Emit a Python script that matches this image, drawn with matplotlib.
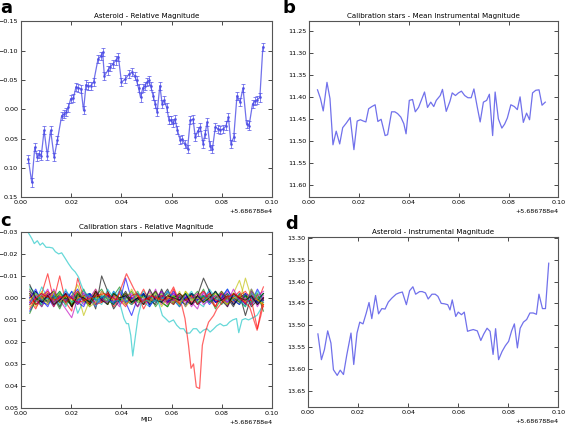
import matplotlib
matplotlib.use('Agg')
import matplotlib.pyplot as plt
from matplotlib.ticker import ScalarFormatter

MJD0 = 56867.88

# panel a: asteroid relative magnitude
t_a = [0.0029, 0.0043, 0.0055, 0.0065, 0.0073, 0.0081, 0.0092, 0.0105, 0.0118, 0.0132,
       0.0145, 0.0162, 0.0172, 0.0180, 0.0189, 0.0198, 0.0209, 0.0219, 0.0229, 0.0239,
       0.0249, 0.0259, 0.0268, 0.0278, 0.0289, 0.0307, 0.0317, 0.0325, 0.0332, 0.0346,
       0.0355, 0.0365, 0.0378, 0.0388, 0.0400, 0.0414, 0.0431, 0.0441, 0.0452, 0.0460,
       0.0468, 0.0476, 0.0485, 0.0494, 0.0502, 0.0508, 0.0516, 0.0526, 0.0534, 0.0542,
       0.0553, 0.0562, 0.0570, 0.0580, 0.0589, 0.0598, 0.0605, 0.0613, 0.0623, 0.0634,
       0.0643, 0.0652, 0.0663, 0.0674, 0.0685, 0.0694, 0.0703, 0.0714, 0.0725, 0.0733,
       0.0741, 0.0752, 0.0762, 0.0774, 0.0785, 0.0794, 0.0805, 0.0816, 0.0826, 0.0836,
       0.0847, 0.0860, 0.0872, 0.0884, 0.0898, 0.0908, 0.0922, 0.0932, 0.0940, 0.0951,
       0.0963]
mag_a = [0.085, 0.125, 0.065, 0.082, 0.077, 0.079, 0.036, 0.079, 0.036, 0.082,
         0.053, 0.011, 0.008, 0.005, -0.003, -0.018, -0.019, -0.038, -0.036, -0.035,
         0.002, -0.042, -0.039, -0.040, -0.046, -0.086, -0.090, -0.097, -0.057, -0.066,
         -0.072, -0.077, -0.083, -0.089, -0.046, -0.051, -0.060, -0.063, -0.057, -0.049,
         -0.036, -0.020, -0.036, -0.040, -0.046, -0.049, -0.040, -0.023, -0.009, 0.005,
         -0.040, -0.009, -0.015, -0.003, 0.018, 0.019, 0.024, 0.017, 0.036, 0.053,
         0.051, 0.059, 0.068, 0.019, 0.017, 0.048, 0.038, 0.031, 0.059, 0.042,
         0.022, 0.062, 0.068, 0.030, 0.034, 0.035, 0.034, 0.028, 0.014, 0.059,
         0.048, -0.023, -0.012, -0.036, 0.025, 0.028, -0.009, -0.014, -0.016, -0.020,
         -0.106]
err_a = 0.007

# panel b: calibration stars mean instrumental magnitude
t_b = [0.0034, 0.0046, 0.0057, 0.0072, 0.0084, 0.0096, 0.0109, 0.0123, 0.0135, 0.0149,
       0.0165, 0.0180, 0.0193, 0.0206, 0.0218, 0.0228, 0.0239, 0.0252, 0.0265, 0.0276,
       0.0289, 0.0305, 0.0315, 0.0331, 0.0344, 0.0355, 0.0368, 0.0380, 0.0389, 0.0402,
       0.0415, 0.0426, 0.0439, 0.0450, 0.0463, 0.0475, 0.0488, 0.0500, 0.0510, 0.0526,
       0.0535, 0.0550, 0.0565, 0.0574, 0.0587, 0.0599, 0.0611, 0.0624, 0.0637, 0.0650,
       0.0661, 0.0674, 0.0686, 0.0699, 0.0712, 0.0723, 0.0736, 0.0746, 0.0759, 0.0773,
       0.0784, 0.0795, 0.0809, 0.0823, 0.0835, 0.0846, 0.0859, 0.0872, 0.0884, 0.0896,
       0.0909, 0.0922, 0.0934, 0.0947]
mag_b = [11.384, 11.404, 11.432, 11.367, 11.404, 11.509, 11.478, 11.507, 11.470, 11.460,
         11.447, 11.520, 11.455, 11.452, 11.455, 11.457, 11.427, 11.422, 11.418, 11.456,
         11.451, 11.488, 11.486, 11.434, 11.434, 11.438, 11.446, 11.461, 11.484, 11.408,
         11.406, 11.434, 11.424, 11.408, 11.389, 11.424, 11.412, 11.422, 11.408, 11.397,
         11.383, 11.433, 11.410, 11.391, 11.397, 11.391, 11.387, 11.397, 11.402, 11.402,
         11.382, 11.422, 11.457, 11.412, 11.408, 11.394, 11.488, 11.389, 11.450, 11.471,
         11.462, 11.448, 11.418, 11.422, 11.429, 11.400, 11.458, 11.437, 11.452, 11.391,
         11.385, 11.384, 11.419, 11.412]

# panel d: asteroid instrumental magnitude
t_d = [0.0040, 0.0054, 0.0066, 0.0079, 0.0092, 0.0102, 0.0117, 0.0129, 0.0142, 0.0155,
       0.0172, 0.0183, 0.0196, 0.0207, 0.0220, 0.0233, 0.0244, 0.0255, 0.0270, 0.0282,
       0.0295, 0.0308, 0.0321, 0.0335, 0.0352, 0.0364, 0.0377, 0.0393, 0.0406, 0.0419,
       0.0430, 0.0446, 0.0456, 0.0469, 0.0480, 0.0495, 0.0508, 0.0519, 0.0532, 0.0545,
       0.0558, 0.0567, 0.0576, 0.0590, 0.0600, 0.0613, 0.0624, 0.0637, 0.0647, 0.0660,
       0.0676, 0.0690, 0.0702, 0.0715, 0.0727, 0.0739, 0.0749, 0.0761, 0.0775, 0.0788,
       0.0801, 0.0813, 0.0824, 0.0836, 0.0847, 0.0860, 0.0873, 0.0886, 0.0899, 0.0912,
       0.0922, 0.0936, 0.0948, 0.0961]
mag_d = [13.520, 13.579, 13.556, 13.513, 13.541, 13.602, 13.615, 13.603, 13.613, 13.569,
         13.518, 13.590, 13.518, 13.493, 13.497, 13.472, 13.448, 13.485, 13.432, 13.474,
         13.462, 13.463, 13.447, 13.438, 13.429, 13.426, 13.424, 13.453, 13.421, 13.412,
         13.429, 13.423, 13.423, 13.426, 13.440, 13.429, 13.429, 13.434, 13.450, 13.451,
         13.453, 13.465, 13.442, 13.480, 13.470, 13.476, 13.470, 13.514, 13.512, 13.510,
         13.513, 13.535, 13.520, 13.507, 13.514, 13.567, 13.508, 13.579, 13.560, 13.547,
         13.537, 13.513, 13.497, 13.552, 13.507, 13.493, 13.487, 13.472, 13.472, 13.475,
         13.429, 13.462, 13.462, 13.358]

# panel c: calibration stars relative magnitude (units of 1e-3 mag)
t_c = [0.0035 + 0.002385 * i for i in range(40)]
noise_rows = [
    [2, -3, 1, 4, -2, 0, 3, -1, -4, 2, 1, -2, 0, 3, -3, 1, 2, 8, 0, -2, 3, 1, -3, 2, 0, -1, 4, -2, 1, 0, -3, 2, 1, -2, 3, 0, -1, 2, -4, 1],
    [-4, 1, 3, -2, 0, 5, -1, 2, -3, 1, 4, -3, 0, 2, -1, -5, 1, 3, 0, -2, 1, -3, 2, 4, -1, 0, -2, 3, 1, -4, 2, 0, -1, 3, -2, 1, 4, -3, 0, 2],
    [5, 0, -2, -11, 1, -10, 2, 6, -9, 0, 3, -2, 1, -3, 4, 0, -1, 2, -2, 5, 0, -3, 1, 2, -4, 3, 0, -1, 2, 1, -2, 4, -3, 0, 1, -1, 3, -2, 2, -5],
    [-1, 2, -5, 0, 3, -2, 1, -3, 7, 1, -2, 0, 2, -1, 3, -4, 0, 2, 1, -3, 0, 2, -2, 1, 3, -1, 0, -3, 2, 4, -2, 1, 0, -4, 2, 1, -1, 3, 0, -2],
    [3, -1, 0, 2, -4, 1, 5, 9, 0, 3, -1, 2, -3, 0, 1, 4, -2, 1, -1, 0, 2, -4, 3, 0, -2, 1, -1, 2, 5, -3, 0, 1, -2, 4, -1, 0, 2, -3, 1, 0],
    [-2, 4, 1, -3, 2, 0, -1, 3, -2, 8, 1, -4, 2, 0, -2, 1, 3, -1, -3, 2, 0, 1, -2, 3, -1, 4, -3, 0, 2, -1, 1, -2, 0, 3, -2, -8, 1, 2, -1, 3],
    [0, -3, 2, 1, -1, 4, -2, 0, 3, -1, -2, 5, -10, -3, 2, 1, -1, 0, 4, -2, 3, -1, 0, -4, 2, 1, 3, -2, 0, -1, 2, -3, 1, 0, 4, -2, 8, -1, 3, 0],
    [6, 1, -2, 0, 4, -1, 2, -3, 1, 0, -2, 3, 1, -1, 0, 2, -9, 1, -2, 3, 0, -1, 2, -3, 1, 4, 0, -2, 1, -1, 3, 0, -2, 2, -1, 0, 3, -4, 2, 1],
    [-3, 0, 4, -1, 2, -2, 0, 3, 1, -4, 2, 0, -1, 3, -2, 1, 0, -3, 2, 1, -1, 4, 0, -2, 3, -1, 1, 0, -3, 2, -1, 5, 0, -2, 1, 3, -1, 0, 2, -2],
    [1, 5, -1, -3, 0, 2, -2, 4, 0, -1, 3, -3, 2, 1, -1, 0, -2, 3, 1, -4, 2, 0, -1, 1, 3, -2, 0, 2, -1, -3, 1, 4, -2, 0, 2, -1, -3, 1, 0, 4],
    [-5, -2, 3, 0, 1, -3, 4, -1, 2, 0, -2, 1, 3, -4, 0, 2, -1, 1, -3, 2, 4, -2, 0, 1, -1, 3, -2, 0, 2, 1, -4, 0, 3, -1, 1, -2, 0, 2, -3, 1],
    [2, -1, 0, -4, 3, 1, -2, 0, 2, -3, 1, 4, -1, 0, 2, -2, 3, 0, -1, 1, -3, 2, 0, 3, -2, 1, -1, 4, 0, -2, 2, -1, 1, -3, 0, 2, 1, -2, 4, -1],
    [4, 2, -3, 1, 0, -2, 3, -1, -6, 2, 0, 1, -2, 3, -1, 0, 2, -4, 1, 3, -2, 0, 1, -1, 2, -3, 4, 1, -2, 0, 1, -1, 3, 0, -2, 2, -9, 0, 1, 3],
    [-2, 3, 1, -1, -3, 2, 0, 4, -2, 1, 3, -1, 0, -2, 5, 1, -3, 2, 0, -1, 1, 3, -4, 2, 0, -2, 1, 3, -1, -9, -3, 2, 1, -1, 3, 0, -2, 4, 1, -2],
    [0, -4, 2, 3, -1, 1, -3, 0, 2, 4, -2, 1, 0, -1, 3, -3, 2, 0, 1, -2, 4, 0, -1, 2, -3, 1, 0, -2, 3, 1, -1, 2, 0, -4, 1, 3, -2, 0, 2, 1],
    [7, 1, -1, 2, 0, -3, 1, 3, -2, 0, 2, -1, -4, 1, 3, 0, -2, 2, 1, -1, 0, -3, 2, 4, -1, 0, 1, -2, 3, -1, 2, 0, -3, 1, 0, 2, -1, 3, -2, 6],
    [-1, 3, 0, -2, 4, -1, 2, 0, -3, 1, -1, 3, 2, -2, 0, 1, 4, -1, -2, 3, 0, 2, -1, 0, -5, 2, 1, -1, 3, 0, -2, 1, 2, -1, 0, -3, 2, 1, 14, 0],
    [3, -2, 1, 0, -1, 3, -4, 2, 1, -2, 0, 4, -1, 2, -3, 0, 1, 3, -2, 0, -1, 2, 1, -3, 0, 4, -2, 1, 0, -1, 2, -3, 3, 0, -1, 1, 4, -2, 0, 2],
    [-3, 1, 4, -2, 2, 0, 1, -1, 3, -2, 0, -4, 1, 2, -1, 3, 0, -2, 4, 1, -1, 0, -3, 2, 1, -1, 2, 0, -2, 3, 1, -1, 0, 2, -4, 1, 0, 3, -1, -3],
    [1, -2, 0, 3, -3, 2, -1, 1, 0, -1, 4, 2, -3, 0, 1, -2, 3, 1, -1, 0, 2, -2, 4, 0, -1, 3, -3, 1, 0, 2, -1, -2, 1, 3, 0, -1, 2, -4, 1, 3],
    [-6, 0, 2, -1, 3, 1, -2, 4, -1, 0, 2, -3, 1, 3, -2, 0, -1, 2, 0, 3, -4, 1, 2, -1, 0, 1, -2, 3, -1, 2, 0, -3, 1, 4, -2, 0, 1, -1, 3, 0],
]
row_colors = ['b', 'g', 'r', 'c', 'm', 'y', 'k']

# the two odd stars in panel c
t_cyan = [0.0029, 0.0043, 0.0053, 0.0065, 0.0076, 0.0086, 0.0100, 0.0113, 0.0126, 0.0137,
          0.0150, 0.0162, 0.0176, 0.0189, 0.0203, 0.0216, 0.0229, 0.0238, 0.0250, 0.0270,
          0.0300, 0.0330, 0.0360, 0.0390, 0.0410, 0.0420, 0.0428, 0.0437, 0.0445, 0.0456,
          0.0467, 0.0480, 0.0500, 0.0520, 0.0540, 0.0550, 0.0563, 0.0576, 0.0590, 0.0607,
          0.0620, 0.0634, 0.0648, 0.0659, 0.0672, 0.0686, 0.0699, 0.0713, 0.0726, 0.0740,
          0.0753, 0.0766, 0.0779, 0.0793, 0.0806, 0.0819, 0.0830, 0.0843, 0.0858, 0.0867,
          0.0880, 0.0893, 0.0906, 0.0927, 0.0940, 0.0955]
mag_cyan = [-29.7, -27.0, -24.7, -26.0, -24.0, -25.0, -23.0, -23.0, -22.7, -21.0,
            -20.0, -20.5, -18.0, -15.6, -13.3, -11.8, -9.5, -6.5, -3.0, -1.0,
            1.0, -1.0, 2.0, 1.0, 9.4, 11.7, 11.7, 17.0, 26.4, 17.0,
            7.9, 2.0, 1.0, 2.0, 1.0, 3.0, 8.0, 9.4, 11.0, 10.0,
            12.4, 14.0, 14.0, 16.0, 16.0, 14.0, 14.0, 16.0, 14.7, 14.0,
            15.5, 14.2, 12.7, 11.7, 12.7, 12.4, 11.0, 10.0, 9.4, 15.8,
            10.0, 9.4, 10.0, 8.8, 7.9, 5.0]
t_red = [0.0035, 0.0080, 0.0130, 0.0180, 0.0230, 0.0280, 0.0330, 0.0380, 0.0420, 0.0450,
         0.0480, 0.0520, 0.0560, 0.0600, 0.0640, 0.0653, 0.0667, 0.0677, 0.0687, 0.0698,
         0.0711, 0.0722, 0.0734, 0.0747, 0.0767, 0.0780, 0.0794, 0.0820, 0.0850, 0.0880,
         0.0910, 0.0940, 0.0955, 0.0965]
mag_red = [3.0, -2.0, 1.0, -1.0, 2.0, 0.0, -2.0, 1.0, -11.0, -4.0,
           2.0, -1.0, 1.0, 0.0, 3.3, 9.4, 21.5, 32.0, 30.0, 40.5, 41.2, 21.5, 15.5, 11.0,
           8.0, 5.0, 3.0, 0.0, -2.0, 1.0, 4.0, 14.7, 8.0, 3.0]

FS = 4.6


def mjd(ts):
    return [MJD0 + v for v in ts]


def style_axes(ax, title):
    ax.set_title(title, fontsize=5.1, pad=2)
    ax.tick_params(direction='in', top=True, right=True, labelsize=FS,
                   length=3, width=0.5, pad=2)
    ax.set_xlim(MJD0, MJD0 + 0.1)
    ax.set_xticks(mjd([0.0, 0.02, 0.04, 0.06, 0.08, 0.10]))
    fmt = ScalarFormatter(useOffset=MJD0)
    ax.xaxis.set_major_formatter(fmt)
    ax.xaxis.get_offset_text().set_fontsize(FS)
    for s in ax.spines.values():
        s.set_linewidth(0.8)
        s.set_color('#555555')


fig = plt.figure(figsize=(5.67, 4.24), dpi=100)
ax_a = fig.add_axes([0.037, 0.535, 0.443, 0.415])
ax_b = fig.add_axes([0.545, 0.535, 0.440, 0.415])
ax_c = fig.add_axes([0.037, 0.038, 0.443, 0.415])
ax_d = fig.add_axes([0.543, 0.040, 0.442, 0.401])

blue = (0.3, 0.3, 0.9)

ax_a.errorbar(mjd(t_a), mag_a, yerr=err_a, color=blue, lw=0.9, marker='.', ms=2,
              elinewidth=0.6, capsize=1.2, capthick=0.6, alpha=0.8)
ax_a.set_ylim(0.15, -0.15)
ax_a.set_yticks([0.15, 0.10, 0.05, 0.0, -0.05, -0.10, -0.15])
style_axes(ax_a, 'Asteroid - Relative Magnitude')

ax_b.plot(mjd(t_b), mag_b, color=blue, lw=0.9, alpha=0.8)
ax_b.set_ylim(11.628, 11.228)
ax_b.set_yticks([11.25, 11.30, 11.35, 11.40, 11.45, 11.50, 11.55, 11.60])
style_axes(ax_b, 'Calibration stars - Mean Instrumental Magnitude')

for i, row in enumerate(noise_rows):
    ax_c.plot(mjd(t_c), [v / 1000.0 for v in row], color=row_colors[i % 7],
              lw=0.8, alpha=0.65)
ax_c.plot(mjd(t_cyan), [v / 1000.0 for v in mag_cyan], color='c', lw=0.9, alpha=0.6)
ax_c.plot(mjd(t_red), [v / 1000.0 for v in mag_red], color='r', lw=0.9, alpha=0.6)
ax_c.set_ylim(0.05, -0.03)
ax_c.set_yticks([0.05, 0.04, 0.03, 0.02, 0.01, 0.0, -0.01, -0.02, -0.03])
style_axes(ax_c, 'Calibration stars - Relative Magnitude')
ax_c.set_xlabel('MJD', fontsize=FS, labelpad=1)

ax_d.plot(mjd(t_d), mag_d, color=blue, lw=0.9, alpha=0.8)
ax_d.set_ylim(13.6875, 13.298)
ax_d.set_yticks([13.30, 13.35, 13.40, 13.45, 13.50, 13.55, 13.60, 13.65])
style_axes(ax_d, 'Asteroid - Instrumental Magnitude')

# panel letters sit at the top-left of each column
for lab, x, y in [('a', 0.0, 0.969), ('b', 0.499, 0.969),
                  ('c', 0.0, 0.466), ('d', 0.503, 0.461)]:
    fig.text(x, y, lab, fontsize=13, fontweight='bold', ha='left', va='baseline')

fig.savefig('out.png', dpi=100)
plt.close(fig)
